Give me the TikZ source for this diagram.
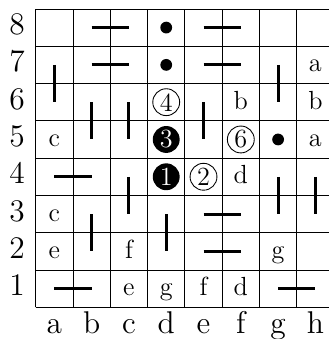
\documentclass[tikz,border=0pt]{standalone}
\usepackage{tikz}

\begin{document}
\begin{tikzpicture}[x=0.6cm,y=0.6cm,
  wall/.style={line width=1.4pt},
  lbl/.style={font=\Large,text height=1.5ex,text depth=0pt,inner sep=0pt},
  txt/.style={font=\large,text height=1.5ex,text depth=0pt,inner sep=0pt},
  dot/.style={circle,fill=black,inner sep=0pt,minimum size=5.4pt},
  wstone/.style={circle,draw,thin,inner sep=0pt,minimum size=12.3pt,font=\large},
  bstone/.style={circle,fill=black,text=white,inner sep=0pt,minimum size=12.3pt,font=\large}]
  \useasboundingbox (-0.957,-0.85) rectangle (7.863,8.24);
  \clip (-0.957,-0.85) rectangle (7.863,8.24);
  % board and cell centres
  \draw[step=0.6cm] (0,0) grid (8,8);
  \foreach \c [count=\i] in {a,b,c,d,e,f,g,h}
    \foreach \r in {1,...,8}
      \coordinate (\c\r) at (\i-0.5,\r-0.5);
  \foreach \r in {1,...,8}
    \node[lbl] (row\r) at (-0.5,\r-0.5) {\r};
  \foreach \c [count=\i] in {a,b,c,d,e,f,g,h}
    \node[lbl] (col\c) at (\i-0.5,-0.5) {\c};
  % walls
  \draw[wall] (b8) -- (c8);
  \draw[wall] (e8) -- (f8);
  \draw[wall] (b7) -- (c7);
  \draw[wall] (e7) -- (f7);
  \draw[wall] (a4) -- (b4);
  \draw[wall] (e3) -- (f3);
  \draw[wall] (e2) -- (f2);
  \draw[wall] (a1) -- (b1);
  \draw[wall] (g1) -- (h1);
  \draw[wall] (a7) -- (a6);
  \draw[wall] (g7) -- (g6);
  \draw[wall] (b6) -- (b5);
  \draw[wall] (c6) -- (c5);
  \draw[wall] (e6) -- (e5);
  \draw[wall] (c4) -- (c3);
  \draw[wall] (g4) -- (g3);
  \draw[wall] (h4) -- (h3);
  \draw[wall] (b3) -- (b2);
  \draw[wall] (d3) -- (d2);
  % stones and dots
  \node[dot] (dotd8) at (d8) {};
  \node[dot] (dotd7) at (d7) {};
  \node[dot] (dotg5) at (g5) {};
  \node[wstone] (four) at (d6) {4};
  \node[bstone] (three) at (d5) {3};
  \node[bstone] (one) at (d4) {1};
  \node[wstone] (two) at (e4) {2};
  \node[wstone] (six) at (f5) {6};
  % letters
  \node[txt] (th7) at (h7) {a};
  \node[txt] (tf6) at (f6) {b};
  \node[txt] (th6) at (h6) {b};
  \node[txt] (ta5) at (a5) {c};
  \node[txt] (th5) at (h5) {a};
  \node[txt] (tf4) at (f4) {d};
  \node[txt] (ta3) at (a3) {c};
  \node[txt] (ta2) at (a2) {e};
  \node[txt] (tc2) at (c2) {f};
  \node[txt] (tg2) at (g2) {g};
  \node[txt] (tc1) at (c1) {e};
  \node[txt] (td1) at (d1) {g};
  \node[txt] (te1) at (e1) {f};
  \node[txt] (tf1) at (f1) {d};
\end{tikzpicture}
\end{document}
